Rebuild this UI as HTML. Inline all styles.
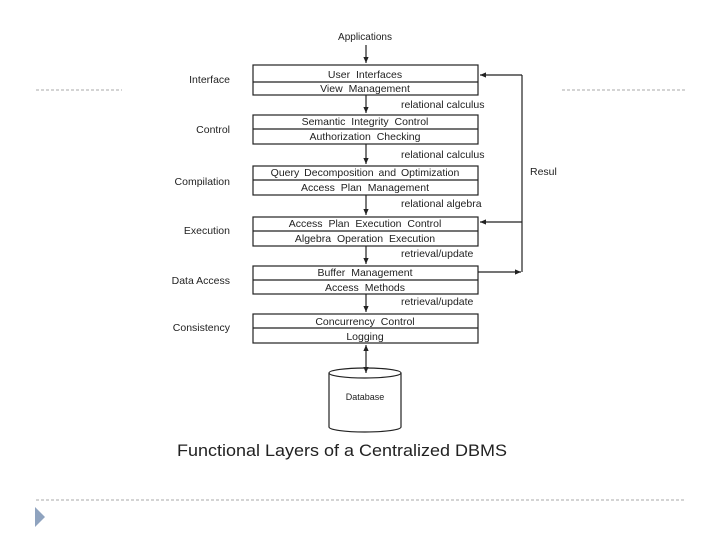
<!DOCTYPE html>
<html><head><style>
body{margin:0;width:720px;height:540px;background:#fff;overflow:hidden}
svg{display:block}
text{font-family:"Liberation Sans",sans-serif;fill:#222}
</style></head><body>
<svg width="720" height="540" viewBox="0 0 720 540">
<defs><marker id="a" markerWidth="6" markerHeight="6" refX="5" refY="3" orient="auto-start-reverse"><path d="M0,0.8 L5,3 L0,5.2z" fill="#222"/></marker></defs>
<g stroke="#aaa" stroke-dasharray="3,2" stroke-width="1">
<line x1="36" y1="90" x2="122" y2="90"/><line x1="562" y1="90" x2="686" y2="90"/>
<line x1="36" y1="500" x2="686" y2="500"/></g>
<path d="M35,507 L45,517 L35,527z" fill="#8fa3bf"/>
<g font-size="10" text-anchor="middle">
<text x="365" y="40">Applications</text>
</g>
<g stroke="#222" fill="none" stroke-width="1.2">
<rect x="253" y="65" width="225" height="30"/><line x1="253" y1="82" x2="478" y2="82"/>
<rect x="253" y="115" width="225" height="29"/><line x1="253" y1="129" x2="478" y2="129"/>
<rect x="253" y="166" width="225" height="29"/><line x1="253" y1="180" x2="478" y2="180"/>
<rect x="253" y="217" width="225" height="29"/><line x1="253" y1="231" x2="478" y2="231"/>
<rect x="253" y="266" width="225" height="28"/><line x1="253" y1="280" x2="478" y2="280"/>
<rect x="253" y="314" width="225" height="29"/><line x1="253" y1="328" x2="478" y2="328"/>
<line x1="366" y1="45" x2="366" y2="63" marker-end="url(#a)"/>
<line x1="366" y1="95" x2="366" y2="113" marker-end="url(#a)"/>
<line x1="366" y1="144" x2="366" y2="164" marker-end="url(#a)"/>
<line x1="366" y1="195" x2="366" y2="215" marker-end="url(#a)"/>
<line x1="366" y1="246" x2="366" y2="264" marker-end="url(#a)"/>
<line x1="366" y1="294" x2="366" y2="312" marker-end="url(#a)"/>
<line x1="366" y1="345" x2="366" y2="373" marker-end="url(#a)" marker-start="url(#a)"/>
<line x1="522" y1="75" x2="522" y2="272"/>
<line x1="522" y1="75" x2="480" y2="75" marker-end="url(#a)"/>
<line x1="522" y1="222" x2="480" y2="222" marker-end="url(#a)"/>
<line x1="478" y1="272" x2="521" y2="272" marker-end="url(#a)"/>
<path d="M329,373 L329,427 A36,5 0 0 0 401,427 L401,373"/>
<ellipse cx="365" cy="373" rx="36" ry="5"/>
</g>
<g font-size="10.5" text-anchor="middle" word-spacing="3">
<text x="365" y="78">User Interfaces</text>
<text x="365" y="92">View Management</text>
<text x="365" y="125">Semantic Integrity Control</text>
<text x="365" y="140">Authorization Checking</text>
<text x="365" y="176" word-spacing="2">Query Decomposition and Optimization</text>
<text x="365" y="191">Access Plan Management</text>
<text x="365" y="227">Access Plan Execution Control</text>
<text x="365" y="242">Algebra Operation Execution</text>
<text x="365" y="276">Buffer Management</text>
<text x="365" y="291">Access Methods</text>
<text x="365" y="325">Concurrency Control</text>
<text x="365" y="340">Logging</text>
<text x="365" y="400" font-size="9" word-spacing="0">Database</text>
</g>
<g font-size="10.5">
<text x="401" y="108">relational calculus</text>
<text x="401" y="158">relational calculus</text>
<text x="401" y="207">relational algebra</text>
<text x="401" y="257">retrieval/update</text>
<text x="401" y="305">retrieval/update</text>
<text x="530" y="175">Resul</text>
</g>
<g font-size="10.5" text-anchor="end">
<text x="230" y="83">Interface</text>
<text x="230" y="133">Control</text>
<text x="230" y="185">Compilation</text>
<text x="230" y="234">Execution</text>
<text x="230" y="284">Data Access</text>
<text x="230" y="331">Consistency</text>
</g>
<text x="342" y="456" font-size="17" text-anchor="middle" textLength="330" lengthAdjust="spacingAndGlyphs">Functional Layers of a Centralized DBMS</text>
</svg>
</body></html>
